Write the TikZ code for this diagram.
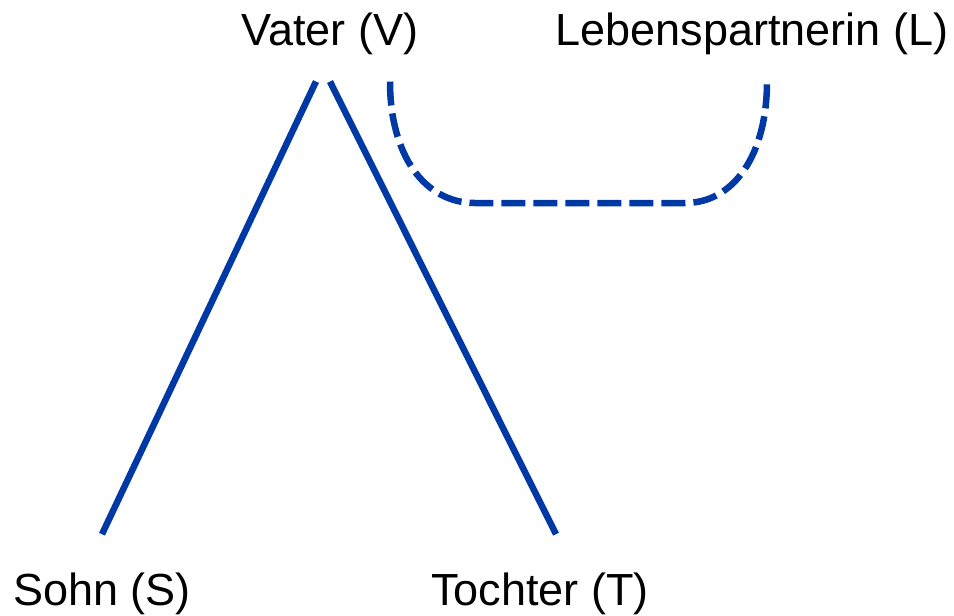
\documentclass[tikz,border=0pt]{standalone}
\usepackage{fontspec}
\setmainfont{Liberation Sans}
\usepackage{tikz}
\usetikzlibrary{positioning}

\definecolor{linkblue}{RGB}{0,57,166}

\begin{document}
\begin{tikzpicture}[x=1pt, y=-1pt,
    person/.style={font=\fontsize{45}{50}\selectfont, inner sep=3pt, anchor=base},
    tie/.style={draw=linkblue, line width=6.5pt},
    loosetie/.style={tie, dash pattern=on 24pt off 8pt}]

    \useasboundingbox (0,0) rectangle (954,616);

    \node[person] (V) at (330,45) {Vater (V)};
    \node[person] (L) at (752,45) {Lebenspartnerin (L)};
    \node[person] (S) at (102,605) {Sohn (S)};
    \node[person] (T) at (540,605) {Tochter (T)};

    % Eltern-Kind
    \draw[tie] ([xshift=-14pt, yshift=-24pt]V.south) -- ([yshift=35pt]S.north);
    \draw[tie] ([yshift=-24pt]V.south) -- ([xshift=16pt, yshift=35pt]T.north);

    % Partnerschaft
    \draw[loosetie] ([xshift=60pt, yshift=-24pt]V.south)
        .. controls +(0,73) and (424,203) .. (475,203) -- (685,203)
        .. controls (734,203) and ([xshift=15pt, yshift=-97pt]L.south) .. ([xshift=15pt, yshift=-24pt]L.south);

\end{tikzpicture}
\end{document}
